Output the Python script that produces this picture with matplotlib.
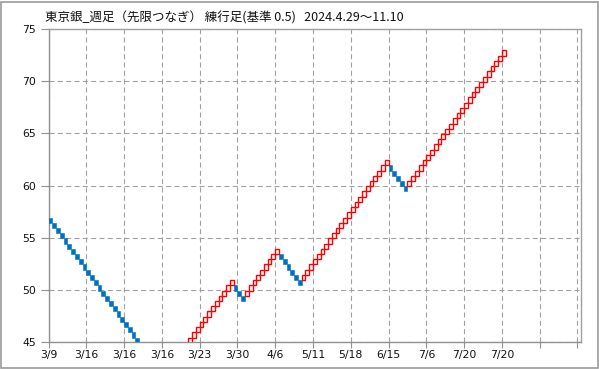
import matplotlib
matplotlib.use('Agg')
import matplotlib.pyplot as plt
from matplotlib.patches import Rectangle

# renko (練行足) data, brick size 0.5
brick = 0.5
start_level = 56.95   # level just before the first brick
# signed run lengths in bricks: minus = falling (blue), plus = rising (red)
runs = [-31, 18, -3, 9, -6, 23, -5, 26]

tick_labels = ['3/9', '3/16', '3/16', '3/16', '3/23', '3/30', '4/6',
               '5/11', '5/18', '6/15', '7/6', '7/20', '7/20']

title = '東京銀_週足（先限つなぎ） 練行足(基準 0.5)   2024.4.29〜11.10'

# build bricks
up_x, up_b, dn_x, dn_b = [], [], [], []
level = start_level
i = 0
for n in runs:
    s = 1 if n > 0 else -1
    for k in range(abs(n)):
        level += s * brick
        if s > 0:
            up_x.append(i)
            up_b.append(level)
        else:
            dn_x.append(i)
            dn_b.append(level)
        i += 1

fig = plt.figure(figsize=(5.99, 3.69), dpi=100)
ax = fig.add_axes([48.5/599, 1-342.3/369, (580.5-48.5)/599, (342.3-29)/369])

ax.bar(dn_x, brick, bottom=dn_b, width=1, align='edge',
       color='#0070C0', edgecolor='#0070C0', linewidth=0.4, zorder=3)
ax.bar(up_x, brick, bottom=up_b, width=1, align='edge',
       facecolor='white', edgecolor='#FF0000', linewidth=1.0, zorder=3)

ax.set_xlim(0, 140.8)
ax.set_ylim(45, 75)
ax.set_xticks(range(0, 141, 10))
ax.set_xticklabels(tick_labels + ['', ''])
ax.set_yticks(range(45, 76, 5))

ax.grid(True, color='#a0a0a0', linestyle=(0, (4.5, 3)), linewidth=0.8, zorder=1)
for sp in ax.spines.values():
    sp.set_color('#a0a0a0')
    sp.set_linewidth(1)
ax.spines['left'].set_color('#909090')
ax.spines['bottom'].set_color('#909090')

ax.tick_params(axis='y', length=6, width=0.8, color='#909090', pad=3,
               labelsize=7.8, labelcolor='#111111')
ax.tick_params(axis='x', length=4, width=0.8, color='#909090', pad=1.5,
               labelsize=7.8, labelcolor='#111111')

fig.text(45/599, 1-17.5/369, title, ha='left', va='center', fontsize=9.0,
         family=['Noto Sans CJK JP', 'DejaVu Sans'], color='#111111')

fig.patches.append(Rectangle((0.5/599, 1.5/369), 597/599, 366/369,
                             transform=fig.transFigure, fill=False,
                             edgecolor='#999999', linewidth=1.2))

fig.savefig('out.png', dpi=100, facecolor='white')
